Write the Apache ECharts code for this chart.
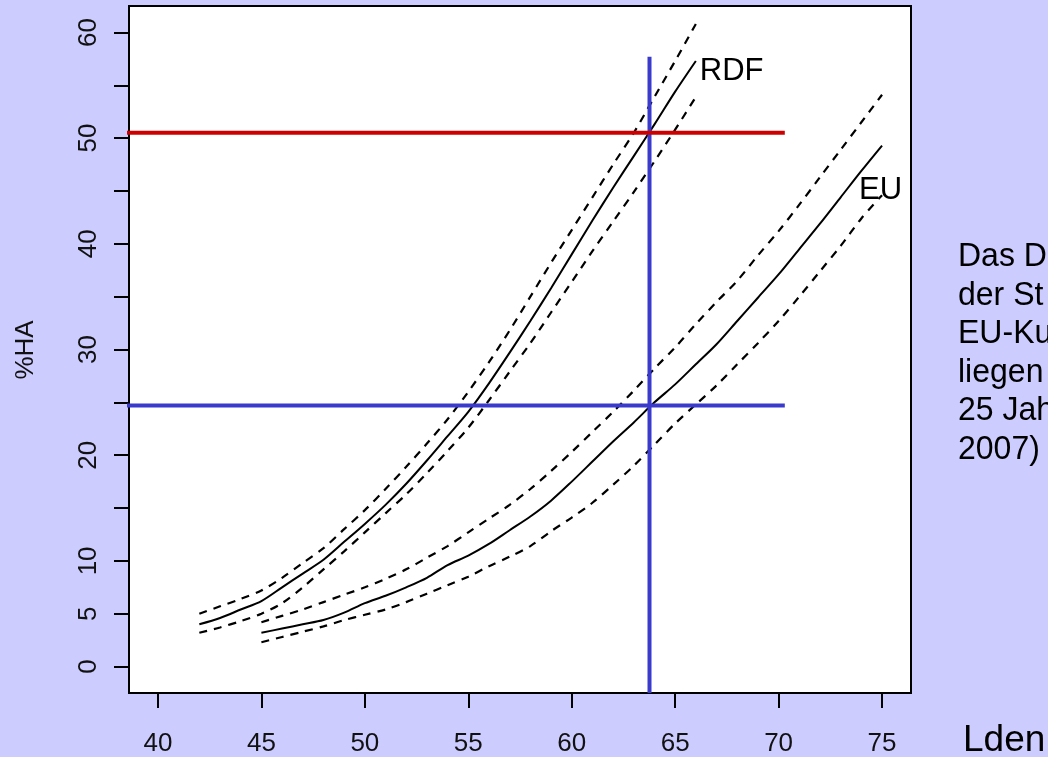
<!DOCTYPE html>
<html>
<head>
<meta charset="utf-8">
<style>
  html, body { margin: 0; padding: 0; background: #ccccff; }
  #chart { width: 1048px; height: 757px; }
</style>
<script src="https://cdn.jsdelivr.net/npm/echarts@6.0.0/dist/echarts.min.js"></script>
</head>
<body>
<div id="chart"></div>
<script>
// Lden values (dB) for the two exposure-response curves
const ldenRdf = [42, 43, 44, 45, 46, 47, 48, 49, 50, 51, 52, 53, 54, 55, 56, 57, 58, 59, 60, 61, 62, 63, 64, 65, 66];
const rdfFit   = [4.0, 4.6, 5.4, 6.2, 7.5, 8.8, 10.1, 11.8, 13.5, 15.3, 17.3, 19.5, 21.8, 24.1, 26.8, 29.7, 32.7, 35.8, 39.0, 42.2, 45.3, 48.3, 51.3, 54.4, 57.3];
const rdfUpper = [5.0, 5.7, 6.4, 7.2, 8.4, 9.8, 11.2, 13.0, 14.8, 16.8, 18.9, 21.1, 23.4, 26.0, 28.8, 31.8, 35.0, 38.2, 41.3, 44.4, 47.5, 50.5, 53.9, 57.3, 60.8];
const rdfLower = [3.2, 3.7, 4.3, 5.0, 6.0, 7.5, 9.2, 10.9, 12.7, 14.5, 16.3, 18.3, 20.4, 22.6, 25.2, 27.9, 30.6, 33.5, 36.4, 39.3, 42.1, 44.9, 47.8, 50.8, 53.9];

const ldenEu = [45, 46, 47, 48, 49, 50, 51, 52, 53, 54, 55, 56, 57, 58, 59, 60, 61, 62, 63, 64, 65, 66, 67, 68, 69, 70, 71, 72, 73, 74, 75];
const euFit   = [3.2, 3.6, 4.0, 4.4, 5.1, 6.0, 6.7, 7.5, 8.4, 9.6, 10.5, 11.6, 12.9, 14.2, 15.7, 17.5, 19.4, 21.3, 23.1, 25.0, 26.7, 28.6, 30.5, 32.7, 34.9, 37.1, 39.5, 41.9, 44.4, 46.9, 49.3];
const euUpper = [4.2, 4.8, 5.4, 6.1, 6.8, 7.5, 8.3, 9.2, 10.3, 11.4, 12.7, 14.0, 15.3, 16.8, 18.5, 20.3, 22.2, 24.1, 26.1, 28.2, 30.2, 32.4, 34.5, 36.5, 38.9, 41.2, 43.7, 46.3, 48.9, 51.5, 54.1];
const euLower = [2.3, 2.8, 3.3, 3.8, 4.4, 4.9, 5.4, 6.1, 6.9, 7.7, 8.5, 9.5, 10.4, 11.4, 12.8, 14.1, 15.5, 17.2, 19.0, 21.0, 23.0, 24.8, 26.6, 28.6, 30.6, 32.7, 35.0, 37.4, 39.8, 42.4, 44.6];

// marker lines: %HA levels, Lden cut, and their extents
const haRed = 50.5;
const haBlue = 24.7;
const ldenCut = 63.76;
const redSpan = [35.3, 70.3];
const blueSpan = [37.45, 70.3];
const cutSpan = [-2.5, 57.7];

const xTicks = [40, 45, 50, 55, 60, 65, 70, 75];
const yTicks = [0, 5, 10, 15, 20, 25, 30, 35, 40, 45, 50, 55, 60];
const yLabels = [0, 5, 10, 20, 30, 40, 50, 60];

const FONT = 'Liberation Sans, Arial, sans-serif';

const pairs = (xs, ys) => xs.map((x, i) => [x, ys[i]]);

const curve = (data, dashed, label) => ({
  type: 'line',
  data: data,
  showSymbol: false,
  smooth: 0.3,
  clip: false,
  silent: true,
  lineStyle: {
    color: '#000',
    width: dashed ? 2.2 : 2,
    type: dashed ? [8, 7] : 'solid'
  },
  endLabel: label ? {
    show: true,
    formatter: label.text,
    offset: label.offset,
    distance: 4,
    color: '#000',
    fontSize: 31,
    fontFamily: FONT
  } : { show: false },
  z: 2
});

const marker = (data, color) => ({
  type: 'line',
  data: data,
  showSymbol: false,
  clip: false,
  silent: true,
  lineStyle: { color: color, width: 4 },
  z: color === '#cc0000' ? 4 : 3
});

const chart = echarts.init(document.getElementById('chart'));

chart.setOption({
  backgroundColor: '#ccccff',
  animation: false,
  grid: {
    left: 129, right: 137, top: 6, bottom: 64,
    show: true,
    backgroundColor: '#ffffff',
    borderColor: '#000',
    borderWidth: 2
  },
  xAxis: {
    type: 'value',
    min: 38.6,
    max: 76.4,
    axisLine: { show: false, onZero: false },
    splitLine: { show: false },
    axisTick: {
      show: true, length: 15, customValues: xTicks,
      lineStyle: { color: '#000', width: 2 }
    },
    axisLabel: {
      customValues: xTicks,
      margin: 38,
      color: '#111',
      fontSize: 26,
      fontFamily: FONT
    }
  },
  yAxis: {
    type: 'value',
    min: -2.5,
    max: 62.5,
    axisLine: { show: false, onZero: false },
    splitLine: { show: false },
    axisTick: {
      show: true, length: 15, customValues: yTicks,
      lineStyle: { color: '#000', width: 2 }
    },
    axisLabel: {
      customValues: yLabels,
      rotate: 90,
      margin: 27,
      color: '#111',
      fontSize: 26,
      fontFamily: FONT
    }
  },
  graphic: [
    {
      type: 'text', x: 26, y: 350, rotation: Math.PI / 2,
      style: { text: '%HA', fill: '#111', font: '26px ' + FONT, align: 'center', verticalAlign: 'middle' }
    },
    {
      type: 'text', x: 963, y: 741,
      style: { text: 'Lden', fill: '#000', font: '37px ' + FONT, align: 'left', verticalAlign: 'middle' }
    },
    {
      type: 'text', x: 958, y: 238, scaleX: 0.97,
      style: {
        text: 'Das D\nder St\nEU-Ku\nliegen\n25 Jah\n2007)',
        fill: '#000',
        font: '33px "Liberation Sans Narrow", "Arial Narrow", ' + FONT,
        lineHeight: 38.5,
        align: 'left', verticalAlign: 'top'
      }
    }
  ],
  series: [
    curve(pairs(ldenRdf, rdfUpper), true),
    curve(pairs(ldenRdf, rdfFit), false, { text: 'RDF', offset: [0, 10] }),
    curve(pairs(ldenRdf, rdfLower), true),
    curve(pairs(ldenEu, euUpper), true),
    curve(pairs(ldenEu, euFit), false, { text: 'EU', offset: [-27, 45] }),
    curve(pairs(ldenEu, euLower), true),
    marker([[blueSpan[0], haBlue], [blueSpan[1], haBlue]], '#3a3acc'),
    marker([[ldenCut, cutSpan[0]], [ldenCut, cutSpan[1]]], '#3a3acc'),
    marker([[redSpan[0], haRed], [redSpan[1], haRed]], '#cc0000')
  ]
});

window.addEventListener('resize', () => chart.resize());
</script>
</body>
</html>
